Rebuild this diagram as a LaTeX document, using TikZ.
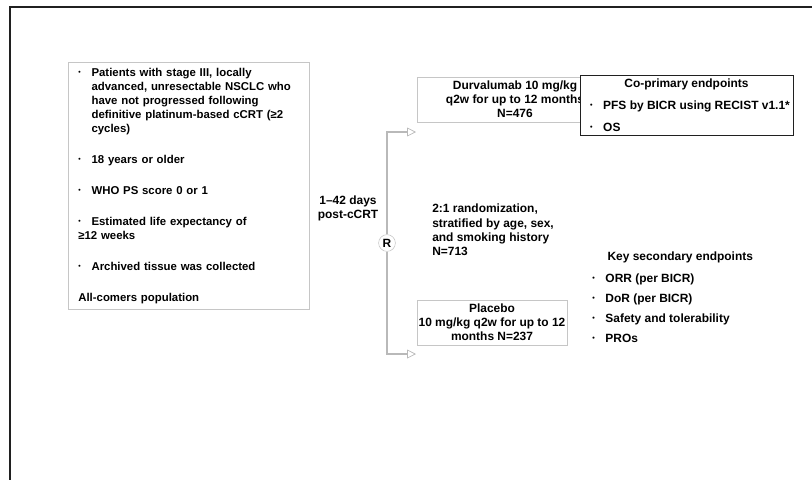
\documentclass[tikz,border=0pt]{standalone}
\usepackage{fontspec}
\setmainfont{Liberation Sans}
\usetikzlibrary{arrows.meta}
\newcommand{\lm}{\hspace*{0.25cm}}
\newcommand{\bul}{\lm\makebox[0.33cm][l]{\raisebox{0.15em}{\scalebox{0.6}{•}}}}
\newcommand{\ind}{\hspace*{0.58cm}}

\begin{document}
\begin{tikzpicture}[font=\fontsize{8.5}{10}\selectfont\bfseries,
        box/.style={draw=gray!45, line width=0.5pt, fill=white, inner sep=0pt},
        arr/.style={draw=gray!55, line width=0.8pt, -{Triangle[open, line width=0.5pt, length=2.2mm, width=2.2mm]}},
        dbl/.style={draw=gray!55, line width=0.4pt, double=white, double distance=1.2pt}]
        \useasboundingbox (0,0) rectangle (20.3,-12);
        \draw[gray!25!black, line width=1.3pt] (20.3,-0.18) -- (0.25,-0.18) -- (0.25,-12);
        \node[box, anchor=north west, minimum height=6.175cm, text width=6.025cm, align=left, font=\fontsize{8.1}{10}\selectfont\bfseries] (incl) at (1.7,-1.55) {\bul Patients with stage III, locally\\
                \ind advanced, unresectable NSCLC who\\
                \ind have not progressed following\\
                \ind definitive platinum-based cCRT (≥2\\
                \ind cycles)\\[12pt]
                \bul 18 years or older\\[12pt]
                \bul WHO PS score 0 or 1\\[12pt]
                \bul Estimated life expectancy of\\
                \lm{}≥12 weeks\\[12pt]
                \bul Archived tissue was collected\\[12pt]
                \lm{}All-comers population};
        \node[circle, draw=gray!45, fill=white, minimum size=0.42cm, inner sep=0pt] (r) at (9.675,-6.075) {R};
        \draw[dbl] (incl.east |- r) -- (r.west);
        \node[align=center] (gap) at (8.7,-5.2) {1–42 days\\post-cCRT};
        \coordinate (up) at (10.4,-3.3);
        \coordinate (dn) at (10.4,-8.85);
        \draw[arr] (r) |- (up);
        \draw[arr] (r) |- (dn);
        \node[box, minimum width=4.9cm, minimum height=1.125cm, align=center] (durva) at (12.875,-2.4875) {Durvalumab 10 mg/kg\\q2w for up to 12 months\\N=476};
        \node[box, draw=gray!25!black, minimum height=1.5cm, align=left] (cop) at (17.1625,-2.625) {\makebox[5.325cm]{Co-primary endpoints}\\[5.5pt]
                \bul PFS by BICR using RECIST v1.1*\\[5.5pt]
                \bul OS};
        \node[anchor=north west, inner sep=0pt, align=left] (rand) at (10.8,-5.1) {2:1 randomization,\\stratified by age, sex,\\and smoking history\\N=713};
        \node[box, minimum width=3.75cm, minimum height=1.125cm, align=center] (plac) at (12.3,-8.0625) {Placebo\\10 mg/kg q2w for up to 12\\months N=237};
        \node[anchor=north west, inner sep=0pt, align=left] (sec) at (14.55,-6.28) {\lm\makebox[4.4cm]{Key secondary endpoints}\\[5.6pt]
                \bul ORR (per BICR)\\[4.3pt]
                \bul DoR (per BICR)\\[4.3pt]
                \bul Safety and tolerability\\[4.3pt]
                \bul PROs};
    \end{tikzpicture}
\end{document}
